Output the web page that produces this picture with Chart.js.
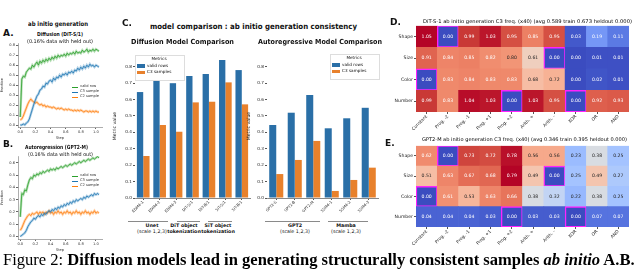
<!DOCTYPE html>
<html>
<head>
<meta charset="utf-8">
<script src="https://cdn.jsdelivr.net/npm/chart.js@4"></script>
<style>
  html, body { margin: 0; padding: 0; background: #fff; }
  body { position: relative; width: 640px; height: 271px; overflow: hidden; font-family: "DejaVu Sans", sans-serif; color: #111; }
  canvas { position: absolute; }
  .t { position: absolute; white-space: nowrap; line-height: 1; transform-origin: 0 50%; }
  .hl { position: absolute; height: 1px; background: #8a8a8a; }
  .key { position: absolute; }
</style>
</head>
<body>
<canvas id="chartA" width="108" height="100" style="left:0;top:40px"></canvas>
<canvas id="chartB" width="108" height="100" style="left:0;top:152px"></canvas>
<canvas id="chartCL" width="140" height="170" style="left:112px;top:48px"></canvas>
<canvas id="chartCR" width="134" height="170" style="left:246px;top:48px"></canvas>
<canvas id="chartD" width="254" height="118" style="left:378px;top:22px"></canvas>
<canvas id="chartE" width="254" height="118" style="left:378px;top:142px"></canvas>
<script>
// ---------- data ----------
// A / B : training curves, step in units of 1e5
const steps = [0.00,0.02,0.04,0.06,0.08,0.10,0.12,0.14,0.16,0.18,0.20,0.22,0.24,0.26,0.28,0.30,0.32,0.34,0.36,0.38,0.40,0.42,0.44,0.46,0.48,0.50,0.52,0.54,0.56,0.58,0.60,0.62,0.64,0.66,0.68,0.70,0.72,0.74,0.76,0.78,0.80,0.82,0.84,0.86,0.88,0.90,0.92,0.94,0.96,0.98,1.00,1.02,1.04];
const curveLabels = ['valid row', 'C3 sample', 'C2 sample'];

const aValid = [0.08,0.46,0.49,0.48,0.53,0.55,0.57,0.56,0.60,0.58,0.61,0.63,0.60,0.64,0.62,0.65,0.63,0.66,0.64,0.67,0.65,0.68,0.66,0.69,0.67,0.70,0.68,0.70,0.69,0.71,0.69,0.72,0.70,0.72,0.71,0.73,0.71,0.74,0.72,0.73,0.72,0.75,0.73,0.74,0.76,0.73,0.75,0.74,0.76,0.74,0.76,0.75,0.74];
const aC3 = [0.00,0.00,0.01,0.00,0.02,0.03,0.06,0.11,0.16,0.21,0.25,0.29,0.31,0.35,0.36,0.39,0.38,0.42,0.41,0.44,0.45,0.43,0.47,0.45,0.48,0.47,0.50,0.48,0.51,0.50,0.52,0.50,0.53,0.52,0.54,0.52,0.55,0.54,0.57,0.55,0.58,0.56,0.59,0.57,0.60,0.58,0.61,0.59,0.60,0.58,0.60,0.59,0.58];
const aC2 = [0.05,0.06,0.09,0.13,0.17,0.21,0.24,0.26,0.24,0.23,0.22,0.23,0.21,0.20,0.21,0.19,0.20,0.18,0.19,0.18,0.18,0.17,0.18,0.17,0.16,0.17,0.16,0.17,0.16,0.15,0.16,0.15,0.16,0.15,0.15,0.14,0.15,0.14,0.15,0.14,0.15,0.14,0.13,0.14,0.14,0.13,0.14,0.13,0.14,0.13,0.14,0.13,0.13];

const bValid = [0.16,0.35,0.34,0.38,0.37,0.42,0.46,0.48,0.47,0.50,0.49,0.51,0.50,0.52,0.51,0.53,0.52,0.53,0.54,0.53,0.55,0.54,0.55,0.54,0.56,0.55,0.56,0.57,0.56,0.57,0.58,0.57,0.58,0.59,0.58,0.59,0.60,0.59,0.60,0.61,0.60,0.61,0.62,0.61,0.62,0.63,0.62,0.63,0.64,0.63,0.64,0.65,0.64];
const bC3 = [0.00,0.01,0.02,0.03,0.05,0.08,0.10,0.12,0.13,0.15,0.14,0.16,0.17,0.16,0.18,0.17,0.19,0.18,0.20,0.21,0.20,0.22,0.21,0.23,0.22,0.24,0.23,0.25,0.24,0.26,0.25,0.27,0.26,0.28,0.27,0.29,0.28,0.30,0.29,0.30,0.31,0.30,0.32,0.31,0.33,0.32,0.33,0.34,0.33,0.35,0.34,0.35,0.34];
const bC2 = [0.05,0.07,0.10,0.13,0.15,0.17,0.18,0.17,0.19,0.18,0.19,0.20,0.18,0.20,0.19,0.20,0.18,0.20,0.19,0.21,0.19,0.20,0.18,0.20,0.19,0.21,0.19,0.20,0.18,0.20,0.19,0.21,0.19,0.20,0.18,0.20,0.19,0.21,0.19,0.20,0.18,0.20,0.19,0.21,0.19,0.20,0.18,0.20,0.19,0.21,0.19,0.20,0.19];

const stepTicks = [0, 0.2, 0.4, 0.6, 0.8, 1.0];
const aYTicks = [0, 0.1, 0.2, 0.3, 0.4, 0.5, 0.6, 0.7, 0.8];
const bYTicks = [0, 0.1, 0.2, 0.3, 0.4, 0.5, 0.6];

// C : model comparison
const diffModels = ['EDM4-1', 'EDM4-2', 'EDM4-3', 'DiT-S/1', 'DiT-B/1', 'SiT-S/1', 'SiT-B/1'];
const diffValid = [0.646, 0.715, 0.700, 0.744, 0.756, 0.841, 0.780];
const diffC3 = [0.256, 0.445, 0.404, 0.583, 0.587, 0.705, 0.571];
const arModels = ['GPT2-S', 'GPT2-B', 'GPT2-M', 'SSM4-1', 'SSM4-2', 'SSM4-3'];
const arValid = [0.445, 0.520, 0.628, 0.425, 0.486, 0.550];
const arC3 = [0.146, 0.232, 0.348, 0.043, 0.110, 0.185];
const metricTicks = [0, 0.1, 0.2, 0.3, 0.4, 0.5, 0.6, 0.7, 0.8];

// D / E : C3 frequency heatmaps
const rules = ['Constant', 'Prog. -2', 'Prog. -1', 'Prog. +1', 'Prog. +2', 'Arith. +', 'Arith. -', 'XOR', 'OR', 'AND'];
const attrs = ['Shape', 'Size', 'Color', 'Number'];
const dShape  = [1.05, 0.00, 0.99, 1.03, 0.95, 0.85, 0.95, 0.03, 0.19, 0.11];
const dSize   = [0.91, 0.84, 0.85, 0.82, 0.80, 0.61, 0.00, 0.00, 0.01, 0.01];
const dColor  = [0.00, 0.83, 0.84, 0.83, 0.83, 0.68, 0.72, 0.00, 0.02, 0.01];
const dNumber = [0.99, 0.83, 1.04, 1.03, 0.00, 1.03, 0.95, 0.00, 0.92, 0.93];
const eShape  = [0.62, 0.00, 0.73, 0.72, 0.78, 0.56, 0.56, 0.23, 0.38, 0.25];
const eSize   = [0.51, 0.63, 0.67, 0.68, 0.79, 0.49, 0.00, 0.25, 0.49, 0.27];
const eColor  = [0.00, 0.61, 0.53, 0.63, 0.66, 0.38, 0.32, 0.22, 0.38, 0.25];
const eNumber = [0.04, 0.04, 0.04, 0.03, 0.00, 0.03, 0.03, 0.00, 0.07, 0.07];
// held out (row, col)
const heldOut = [[0, 1], [1, 6], [2, 0], [3, 4], [3, 7]];

// ---------- helpers ----------
const GREEN = '#2ca02c', BLUE = '#1f77b4', ORANGE = '#ff7f0e';
const BAR_BLUE = '#2a6fa7', BAR_ORANGE = '#e8812c';
const FONT = '"DejaVu Sans", sans-serif';

// text: fs = font size, w = target width (squeezed with scaleX when fs is given too)
function txt(html, o) {
  const el = document.createElement('div');
  el.className = 't';
  el.innerHTML = html;
  el.style.fontSize = '10px';
  if (o.bold) el.style.fontWeight = 'bold';
  if (o.family) el.style.fontFamily = o.family;
  if (o.color) el.style.color = o.color;
  document.body.appendChild(el);
  let fs = o.fs || 10;
  if (o.w && !o.fs) fs = 10 * o.w / el.getBoundingClientRect().width;
  el.style.fontSize = fs + 'px';
  let w = el.getBoundingClientRect().width;
  if (o.w && o.fs) {
    el.style.transform = 'scaleX(' + (o.w / w) + ')';
    w = o.w;
  }
  let left = o.x;
  if (o.cx !== undefined) left = o.cx - w / 2;
  if (o.r !== undefined) left = o.r - w;
  el.style.left = left + 'px';
  el.style.top = (o.cy - fs * 0.52) + 'px';
  return el;
}
function box(x, y, w, h, css) {
  const el = document.createElement('div');
  el.className = 'key';
  el.style.cssText += `left:${x}px;top:${y}px;width:${w}px;height:${h}px;` + css;
  document.body.appendChild(el);
}

const CW = [[59,76,192],[77,104,215],[98,130,234],[119,154,247],[141,176,254],[163,194,255],[184,208,249],[204,217,238],[221,221,221],[236,211,197],[245,196,173],[247,177,148],[244,154,123],[236,127,99],[222,96,77],[203,62,56],[180,4,38]];
function coolwarm(t) {
  t = Math.max(0, Math.min(1, t)) * 16;
  const i = Math.min(15, Math.floor(t)), f = t - i;
  return CW[i].map((v, k) => Math.round(v + (CW[i + 1][k] - v) * f));
}
function lum(c) {
  const l = c.map(v => { v /= 255; return v <= 0.03928 ? v / 12.92 : Math.pow((v + 0.055) / 1.055, 2.4); });
  return 0.2126 * l[0] + 0.7152 * l[1] + 0.0722 * l[2];
}
function fixTicks(list) { return ax => { ax.ticks = list.map(v => ({ value: v })); }; }

// ---------- A / B line charts ----------
function curveChart(id, series, yMin, yMax, yTicks, padTop) {
  const colors = [GREEN, BLUE, ORANGE];
  const halo = ['rgba(44,160,44,0.35)', 'rgba(31,119,180,0.35)', 'rgba(255,127,14,0.35)'];
  const datasets = [];
  series.forEach((s, k) => {
    const pts = steps.map((x, i) => ({ x: x, y: s[i] }));
    datasets.push({ data: pts, borderColor: halo[k], borderWidth: 2.4, pointRadius: 0 });
    datasets.push({ data: pts, borderColor: colors[k], borderWidth: 0.8, pointRadius: 0 });
  });
  return new Chart(document.getElementById(id), {
    type: 'line',
    data: { datasets: datasets },
    options: {
      responsive: false, animation: false, events: [],
      layout: { padding: { left: 0, top: padTop, right: 6, bottom: 0 } },
      plugins: { legend: { display: false }, tooltip: { enabled: false } },
      elements: { line: { tension: 0 } },
      scales: {
        x: {
          type: 'linear', min: -0.03, max: 1.08,
          afterBuildTicks: fixTicks(stepTicks),
          afterFit: s => { s.height = 13; },
          ticks: { font: { size: 3.6, family: FONT }, color: '#333', padding: 1, maxRotation: 0, callback: v => v.toFixed(1) },
          grid: { drawOnChartArea: false, tickLength: 2, color: '#666' },
          border: { color: '#777', width: 0.6 },
          title: { display: true, text: 'Step', font: { size: 3.6, family: FONT }, padding: 0, color: '#333' }
        },
        y: {
          min: yMin, max: yMax,
          afterBuildTicks: fixTicks(yTicks),
          afterFit: s => { s.width = 18; },
          ticks: { font: { size: 3.6, family: FONT }, color: '#333', padding: 1, callback: v => v.toFixed(1) },
          grid: { drawOnChartArea: false, tickLength: 2, color: '#666' },
          border: { color: '#777', width: 0.6 },
          title: { display: true, text: 'Fraction', font: { size: 3.6, family: FONT }, padding: 0, color: '#333' }
        }
      }
    }
  });
}
curveChart('chartA', [aValid, aC3, aC2], -0.02, 0.82, aYTicks, 3);
curveChart('chartB', [bValid, bC3, bC2], -0.02, 0.655, bYTicks, 4);

// ---------- C bar charts ----------
function barChart(id, labels, valid, c3, yWidth, catPct) {
  return new Chart(document.getElementById(id), {
    type: 'bar',
    data: {
      labels: labels,
      datasets: [
        { label: 'valid rows', data: valid, backgroundColor: BAR_BLUE },
        { label: 'C3 samples', data: c3, backgroundColor: BAR_ORANGE }
      ]
    },
    options: {
      responsive: false, animation: false, events: [],
      layout: { padding: { left: 0, top: 6, right: 2, bottom: 0 } },
      plugins: { legend: { display: false }, tooltip: { enabled: false } },
      datasets: { bar: { barPercentage: 1, categoryPercentage: catPct } },
      scales: {
        x: {
          afterFit: s => { s.height = 20; },
          ticks: { font: { size: 3.8, family: FONT }, color: '#222', padding: 0, minRotation: 45, maxRotation: 45, autoSkip: false },
          grid: { drawOnChartArea: false, offset: false, tickLength: 2, color: '#555' },
          border: { color: '#555', width: 0.7 }
        },
        y: {
          min: 0, max: 0.878,
          afterBuildTicks: fixTicks(metricTicks),
          afterFit: s => { s.width = yWidth; },
          ticks: { font: { size: 4.2, family: FONT }, color: '#222', padding: 1, callback: v => v.toFixed(1) },
          grid: { drawOnChartArea: false, tickLength: 2, color: '#555' },
          border: { display: false },
          title: { display: true, text: 'Metric value', font: { size: 4.6, family: FONT }, padding: 0, color: '#222' }
        }
      }
    }
  });
}
barChart('chartCL', diffModels, diffValid, diffC3, 23, 0.77);
barChart('chartCR', arModels, arValid, arC3, 21, 0.76);

// ---------- D / E heatmaps ----------
const cellText = {
  id: 'cellText',
  afterDatasetsDraw(chart) {
    const ctx = chart.ctx;
    ctx.save();
    ctx.font = '4.6px ' + FONT;
    ctx.textAlign = 'center';
    ctx.textBaseline = 'middle';
    chart.data.datasets.forEach((ds, i) => {
      chart.getDatasetMeta(i).data.forEach((bar, j) => {
        ctx.fillStyle = ds.textColors[j];
        ctx.fillText(ds.values[j].toFixed(2), bar.x, (bar.y + bar.base) / 2);
      });
    });
    ctx.restore();
  }
};
function isHeld(r, c) { return heldOut.some(h => h[0] === r && h[1] === c); }
function heatmap(id, grid, vmax, xHeight) {
  const datasets = [3, 2, 1, 0].map(r => {
    const vals = grid[r];
    const cols = vals.map(v => coolwarm(v / vmax));
    return {
      label: attrs[r],
      data: vals.map(() => 1),
      values: vals,
      backgroundColor: cols.map(c => `rgb(${c})`),
      textColors: cols.map(c => lum(c) > 0.408 ? '#262626' : '#ffffff'),
      borderColor: vals.map((v, j) => isHeld(r, j) ? '#ff22ff' : 'rgba(0,0,0,0)'),
      borderWidth: vals.map((v, j) => isHeld(r, j) ? 1.4 : 0),
      borderSkipped: false,
      barPercentage: 1, categoryPercentage: 1
    };
  });
  return new Chart(document.getElementById(id), {
    type: 'bar',
    data: { labels: rules, datasets: datasets },
    plugins: [cellText],
    options: {
      responsive: false, animation: false, events: [],
      layout: { padding: { left: 0, top: 3, right: 3, bottom: 0 } },
      plugins: { legend: { display: false }, tooltip: { enabled: false } },
      scales: {
        x: {
          stacked: true,
          afterFit: s => { s.height = xHeight; },
          ticks: { font: { size: 4.4, family: FONT }, color: '#222', padding: 0, minRotation: 45, maxRotation: 45, autoSkip: false },
          grid: { drawOnChartArea: false, offset: false, tickLength: 2, color: '#555' },
          border: { display: false }
        },
        y: {
          stacked: true, min: 0, max: 4,
          afterBuildTicks: fixTicks([0.5, 1.5, 2.5, 3.5]),
          afterFit: s => { s.width = 38; },
          ticks: { font: { size: 4.6, family: FONT }, color: '#222', padding: 1, callback: v => attrs[3 - Math.floor(v)] },
          grid: { drawOnChartArea: false, tickLength: 2, color: '#555' },
          border: { display: false }
        }
      }
    }
  });
}
heatmap('chartD', [dShape, dSize, dColor, dNumber], 1.05, 28);
heatmap('chartE', [eShape, eSize, eColor, eNumber], 0.79, 33);

// ---------- titles, legends, annotations ----------
txt('ab initio generation', { cx: 58, cy: 24.5, w: 60, fs: 6.2, bold: true });
txt('A.', { x: 3, cy: 33.5, fs: 9, bold: true });
txt('Diffusion (DiT-S/1)', { cx: 60, cy: 34.5, w: 46, fs: 5.4, bold: true });
txt('(0.16% data with held out)', { cx: 60, cy: 41.5, w: 66, fs: 5.2 });
txt('B.', { x: 3, cy: 145, fs: 9, bold: true });
txt('Autoregression (GPT2-M)', { cx: 56.5, cy: 147.5, w: 63, fs: 5.6, bold: true });
txt('(0.16% data with held out)', { cx: 60.5, cy: 154.5, w: 65, fs: 5.2 });

function curveLegend(x, y) {
  [GREEN, BLUE, ORANGE].forEach((c, k) => {
    box(x, y + k * 5 - 0.5, 6, 1, 'background:' + c);
    txt(curveLabels[k], { x: x + 8, cy: y + k * 5, fs: 3.6, color: '#333' });
  });
}
curveLegend(72, 87);
curveLegend(72, 176);

txt('C.', { x: 122, cy: 23.5, fs: 9, bold: true });
txt('model comparison : ab initio generation consistency', { x: 150, cy: 27, w: 207, fs: 7.6, bold: true });
txt('Diffusion Model Comparison', { x: 131, cy: 43, w: 103, fs: 7, bold: true });
txt('Autoregressive Model Comparison', { x: 258, cy: 43, w: 124, fs: 7, bold: true });

function barLegend(x, y) {
  box(x, y, 48, 24, 'border:0.6px solid #ddd;background:rgba(255,255,255,0.85)');
  txt('Metrics', { cx: x + 24, cy: y + 4.5, fs: 4.2 });
  box(x + 2, y + 9, 8, 3.6, 'background:' + BAR_BLUE);
  txt('valid rows', { x: x + 12, cy: y + 11, fs: 4.2 });
  box(x + 2, y + 15.5, 8, 3.6, 'background:' + BAR_ORANGE);
  txt('C3 samples', { x: x + 12, cy: y + 17.5, fs: 4.2 });
}
barLegend(135, 55);
barLegend(330, 54);

function group(x1, x2, cx, l1, l2) {
  const el = document.createElement('div');
  el.className = 'hl';
  el.style.left = x1 + 'px'; el.style.top = '221px'; el.style.width = (x2 - x1) + 'px';
  document.body.appendChild(el);
  txt(l1, { cx: cx, cy: 226, fs: 4.8, bold: true });
  txt(l2, { cx: cx, cy: 232, fs: 4.8, bold: l2 !== '(scale 1,2,3)' });
}
group(128, 168, 152, 'Unet', '(scale 1,2,3)');
group(177, 200, 184, 'DiT object', 'tokenization');
group(208, 232, 218, 'SiT object', 'tokenization');
group(265, 320, 295, 'GPT2', '(scale 1,2,3)');
group(328, 368, 346, 'Mamba', '(scale 1,2,3)');

txt('D.', { x: 390, cy: 22.5, fs: 9, bold: true });
txt('DiT-S-1 ab initio generation C3 freq. (x40) (avg 0.589 train 0.673 heldout 0.000)', { x: 423, cy: 21.5, w: 209, fs: 5, color: '#000' });
txt('E.', { x: 385, cy: 143.5, fs: 9, bold: true });
txt('GPT2-M ab initio generation C3 freq. (x40) (avg 0.346 train 0.395 heldout 0.000)', { x: 422, cy: 140, w: 205, fs: 5, color: '#000' });

txt('Figure 2: <b>Diffusion models lead in generating structurally consistent samples <i>ab initio</i> A.B.</b>',
    { x: 3, cy: 260.5, w: 632, family: '"Liberation Serif", serif', color: '#000' });
</script>
</body>
</html>
